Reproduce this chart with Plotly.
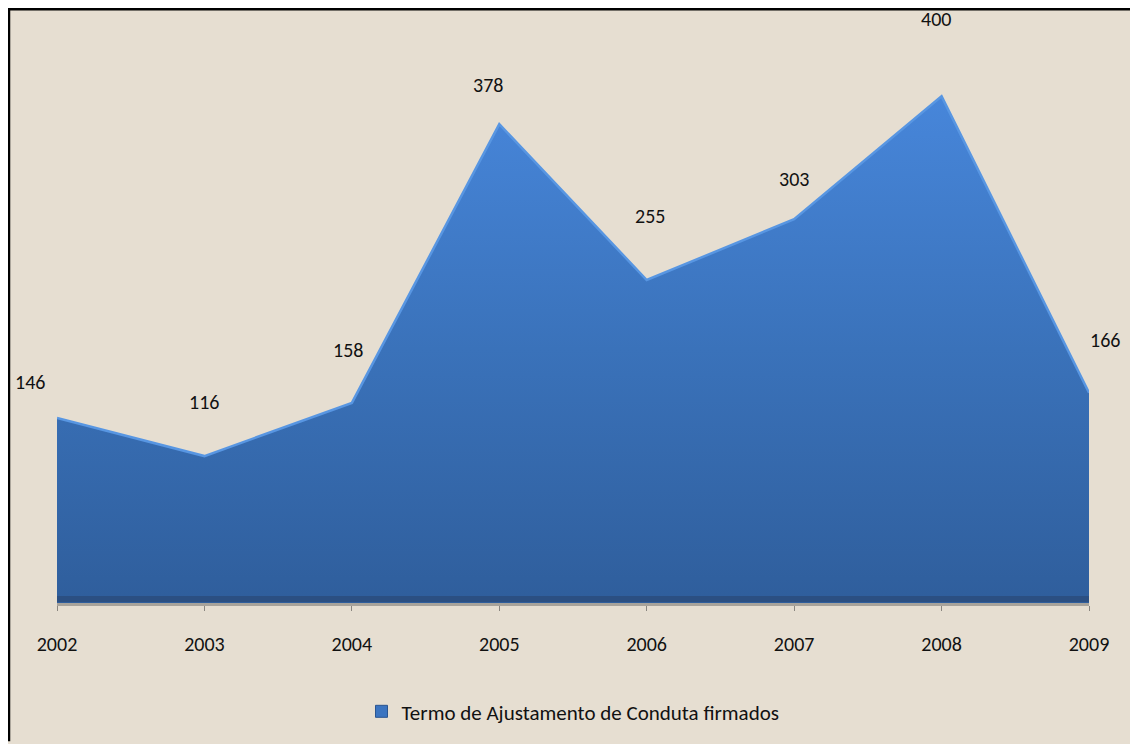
import plotly.graph_objects as go

years = ["2002", "2003", "2004", "2005", "2006", "2007", "2008", "2009"]
values = [146, 116, 158, 378, 255, 303, 400, 166]
series_name = "Termo de Ajustamento de Conduta firmados"

# label offsets (pixels) relative to each point, as placed in the reference
label_dx = [-27, 0, -4, -11, 3, 0, -6, 16]
label_dy = [36, 54, 53, 39, 64, 40, 77, 53]

# the page body has an 8px margin, so the figure is 8px smaller than the window
OFF = 8
W, H = 1138 - OFF, 744 - OFF
ml, mr, mt, mb = 57 - OFF, 49, 33 - OFF, 134
font_family = "Carlito, Calibri, Lato, sans-serif"
bg = "#e6ded1"

fig = go.Figure()
fig.add_trace(go.Scatter(
    x=list(range(len(years))), y=values,
    name=series_name,
    mode="lines",
    fill="tozeroy",
    line=dict(color="#5896e2", width=2.5),
    fillgradient=dict(type="vertical",
                      colorscale=[[0, "#2f5e9c"], [0.5, "#3a72ba"], [1, "#4786da"]]),
    hoverinfo="x+y",
    showlegend=False,
))
# legend entry with a square swatch
fig.add_trace(go.Scatter(
    x=[None], y=[None], mode="markers", name=series_name,
    marker=dict(symbol="square", size=12, color="#3b74c0",
                line=dict(color="#2a5590", width=1)),
    showlegend=True,
))

for i, (v, dx, dy) in enumerate(zip(values, label_dx, label_dy)):
    fig.add_annotation(x=i, y=v, text=str(v), showarrow=False,
                       xshift=dx, yshift=dy,
                       font=dict(size=20, color="#111111", family=font_family))

pw = W - ml - mr
ph = H - mt - mb
def px_x(p):
    return (p - OFF - ml) / pw
def px_y(p):
    return (H - mb - (p - OFF)) / ph

# frame lines (left and top edges visible)
fig.add_shape(type="line", xref="paper", yref="paper",
              x0=px_x(9), x1=px_x(9), y0=px_y(8), y1=px_y(750),
              line=dict(color="#000000", width=2.5))
fig.add_shape(type="line", xref="paper", yref="paper",
              x0=px_x(8), x1=px_x(1145), y0=px_y(9), y1=px_y(9),
              line=dict(color="#000000", width=2.5))
# dark floor strip under the area
fig.add_shape(type="rect", xref="x", yref="paper",
              x0=0, x1=len(years) - 1, y0=px_y(609), y1=px_y(603),
              line=dict(width=0), fillcolor="#2b4f82", layer="above")

fig.update_layout(
    width=W, height=H,
    margin=dict(l=ml, r=mr, t=mt, b=mb),
    paper_bgcolor=bg, plot_bgcolor=bg,
    showlegend=True,
    legend=dict(orientation="h", x=0.5, xanchor="center",
                y=px_y(720), yanchor="middle",
                font=dict(size=21, color="#111111", family=font_family),
                bgcolor="rgba(0,0,0,0)"),
    xaxis=dict(range=[0, len(years) - 1], tickmode="array",
               tickvals=list(range(len(years))), ticktext=years,
               showgrid=False, zeroline=False,
               showline=True, linecolor="#a8a39b", linewidth=3,
               ticks="outside", tickcolor="#8a8680", ticklen=5, tickwidth=1,
               ticklabelstandoff=16,
               tickfont=dict(size=20, color="#111111", family=font_family)),
    yaxis=dict(range=[0, 450], showgrid=False, zeroline=False,
               showticklabels=False, showline=False),
)

fig.write_html("out.html")
